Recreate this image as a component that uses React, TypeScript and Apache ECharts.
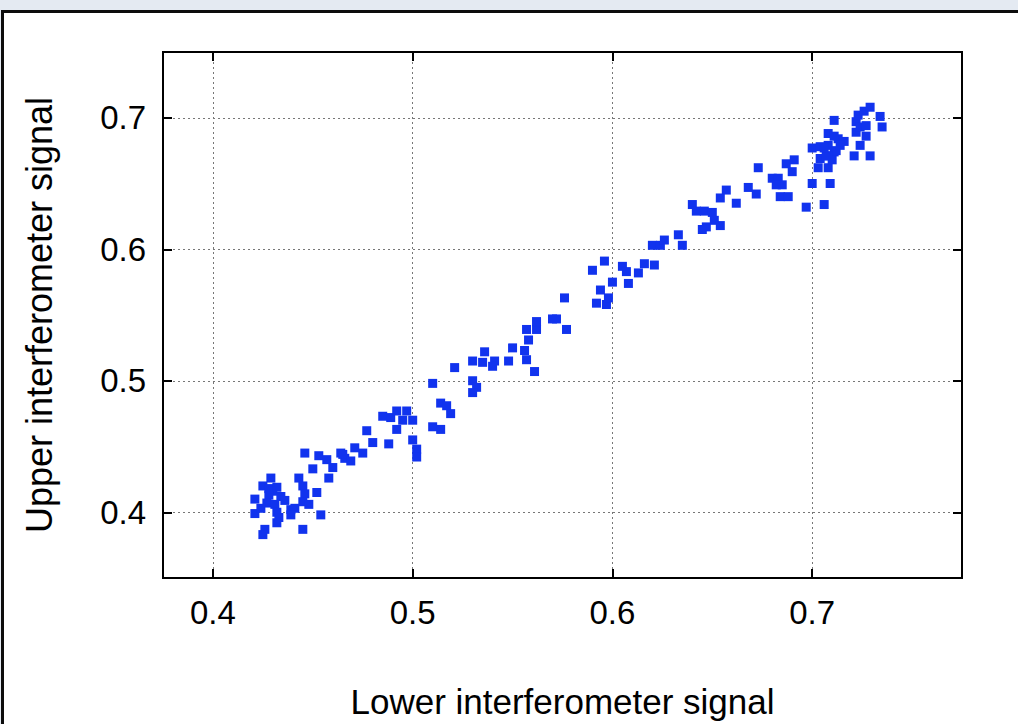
import React, { useEffect, useRef } from "react";
import * as echarts from "echarts";

// Lower interferometer signal (x) and Upper interferometer signal (y)
const lowerSignal: number[] = [
  0.446, 0.453, 0.457, 0.464, 0.466, 0.460, 0.450, 0.458, 0.429, 0.425,
  0.443, 0.445, 0.430, 0.428, 0.434, 0.452, 0.446, 0.445, 0.421, 0.427,
  0.448, 0.431, 0.421, 0.439, 0.441, 0.439, 0.432, 0.432, 0.454, 0.426,
  0.425, 0.445, 0.428, 0.432, 0.436, 0.424, 0.433, 0.465, 0.469, 0.471,
  0.475, 0.477, 0.480, 0.488, 0.485, 0.489, 0.492, 0.497, 0.495, 0.500,
  0.492, 0.500, 0.502, 0.502, 0.510, 0.514, 0.514, 0.517, 0.519, 0.510,
  0.521, 0.530, 0.532, 0.530, 0.530, 0.536, 0.535, 0.541, 0.540, 0.548,
  0.550, 0.556, 0.557, 0.561, 0.558, 0.557, 0.562, 0.562, 0.570, 0.572,
  0.577, 0.576, 0.592, 0.597, 0.598, 0.594, 0.600, 0.608, 0.590, 0.596,
  0.605, 0.607, 0.613, 0.616, 0.621, 0.620, 0.624, 0.626, 0.633, 0.635,
  0.640, 0.642, 0.646, 0.650, 0.651, 0.654, 0.645, 0.647, 0.654, 0.657,
  0.662, 0.668, 0.672, 0.673, 0.680, 0.683, 0.685, 0.682, 0.684, 0.688,
  0.687, 0.691, 0.690, 0.697, 0.706, 0.700, 0.709, 0.703, 0.708, 0.700,
  0.704, 0.708, 0.711, 0.712, 0.708, 0.704, 0.710, 0.707, 0.713, 0.716,
  0.708, 0.711, 0.711, 0.721, 0.729, 0.724, 0.722, 0.727, 0.722, 0.724,
  0.727, 0.723, 0.726, 0.729, 0.734, 0.735, 0.706, 0.714,
];
const upperSignal: number[] = [
  0.445, 0.443, 0.440, 0.445, 0.441, 0.434, 0.433, 0.426, 0.426, 0.420,
  0.426, 0.420, 0.416, 0.413, 0.412, 0.415, 0.414, 0.408, 0.410, 0.407,
  0.406, 0.406, 0.399, 0.402, 0.403, 0.398, 0.400, 0.392, 0.398, 0.387,
  0.383, 0.387, 0.418, 0.419, 0.409, 0.403, 0.396, 0.444, 0.439, 0.449,
  0.445, 0.462, 0.453, 0.452, 0.473, 0.472, 0.477, 0.477, 0.470, 0.470,
  0.463, 0.455, 0.448, 0.442, 0.465, 0.463, 0.483, 0.481, 0.475, 0.498,
  0.510, 0.500, 0.495, 0.491, 0.515, 0.522, 0.514, 0.515, 0.511, 0.515,
  0.525, 0.523, 0.516, 0.507, 0.531, 0.539, 0.539, 0.545, 0.547, 0.547,
  0.539, 0.563, 0.559, 0.558, 0.563, 0.569, 0.575, 0.574, 0.584, 0.591,
  0.587, 0.583, 0.582, 0.589, 0.588, 0.603, 0.603, 0.607, 0.611, 0.603,
  0.634, 0.629, 0.629, 0.628, 0.622, 0.618, 0.615, 0.617, 0.639, 0.645,
  0.635, 0.647, 0.642, 0.662, 0.654, 0.654, 0.649, 0.649, 0.640, 0.640,
  0.665, 0.668, 0.659, 0.632, 0.634, 0.650, 0.650, 0.662, 0.662, 0.677,
  0.678, 0.679, 0.674, 0.675, 0.671, 0.669, 0.668, 0.671, 0.684, 0.682,
  0.688, 0.698, 0.686, 0.671, 0.671, 0.679, 0.689, 0.686, 0.697, 0.693,
  0.694, 0.702, 0.705, 0.708, 0.701, 0.693, 0.677, 0.679,
];

const xTicks: number[] = [0.4, 0.5, 0.6, 0.7];
const yTicks: number[] = [0.4, 0.5, 0.6, 0.7];
const xRange: number[] = [0.375, 0.775];
const yRange: number[] = [0.35, 0.75];
const xTitle = "Lower interferometer signal";
const yTitle = "Upper interferometer signal";

const FONT = "'Liberation Sans', Arial, Helvetica, sans-serif";

export default function App() {
  const ref = useRef<HTMLDivElement>(null);

  useEffect(() => {
    if (!ref.current) return;
    const chart = echarts.init(ref.current, undefined, { renderer: "svg" });
    const points = lowerSignal.map((x, i) => [x, upperSignal[i]]);

    const tickStyle = { color: "#000", width: 2 };
    const mirrorX = {
      type: "value",
      position: "top",
      min: xRange[0],
      max: xRange[1],
      axisLine: { show: false },
      axisTick: { show: true, inside: true, length: 9, lineStyle: tickStyle, customValues: xTicks },
      axisLabel: { show: false },
      splitLine: { show: false },
    };
    const mirrorY = {
      type: "value",
      position: "right",
      min: yRange[0],
      max: yRange[1],
      axisLine: { show: false },
      axisTick: { show: true, inside: true, length: 9, lineStyle: tickStyle, customValues: yTicks },
      axisLabel: { show: false },
      splitLine: { show: false },
    };

    chart.setOption({
      animation: false,
      backgroundColor: "#e4eaf2",
      graphic: [
        {
          type: "rect",
          z: -10,
          silent: true,
          shape: { x: 2.5, y: 11.5, width: 1100, height: 800 },
          style: { fill: "#ffffff", stroke: "#0c0c0c", lineWidth: 3 },
        },
      ],
      grid: {
        left: 163,
        top: 52,
        right: 56,
        bottom: 143,
        show: true,
        backgroundColor: "rgba(0,0,0,0)",
        borderColor: "#000",
        borderWidth: 2,
        z: 3,
      },
      xAxis: [
        {
          type: "value",
          position: "bottom",
          min: xRange[0],
          max: xRange[1],
          name: xTitle,
          nameLocation: "middle",
          nameGap: 106,
          nameTextStyle: { fontFamily: FONT, fontSize: 35, color: "#000" },
          axisLine: { show: false },
          axisTick: { show: true, inside: true, length: 9, lineStyle: tickStyle, customValues: xTicks },
          axisLabel: {
            show: true,
            customValues: xTicks,
            margin: 18,
            fontFamily: FONT,
            fontSize: 33,
            color: "#000",
          },
          splitLine: {
            show: true,
            lineStyle: { color: "#777", width: 1, type: [2, 3] },
          },
        },
        mirrorX,
      ],
      yAxis: [
        {
          type: "value",
          position: "left",
          min: yRange[0],
          max: yRange[1],
          name: yTitle,
          nameLocation: "middle",
          nameGap: 106,
          nameTextStyle: { fontFamily: FONT, fontSize: 36, color: "#000" },
          axisLine: { show: false },
          axisTick: { show: true, inside: true, length: 9, lineStyle: tickStyle, customValues: yTicks },
          axisLabel: {
            show: true,
            customValues: yTicks,
            margin: 17,
            fontFamily: FONT,
            fontSize: 33,
            color: "#000",
          },
          splitLine: {
            show: true,
            lineStyle: { color: "#777", width: 1, type: [2, 3] },
          },
        },
        mirrorY,
      ],
      series: [
        {
          type: "scatter",
          xAxisIndex: 0,
          yAxisIndex: 0,
          symbol: "rect",
          symbolSize: 9,
          itemStyle: { color: "#1133ee", opacity: 1 },
          data: points,
          z: 2,
        },
      ],
    });

    return () => chart.dispose();
  }, []);

  return (
    <div
      ref={ref}
      style={{ position: "absolute", left: 0, top: 0, width: 1018, height: 724 }}
    />
  );
}
